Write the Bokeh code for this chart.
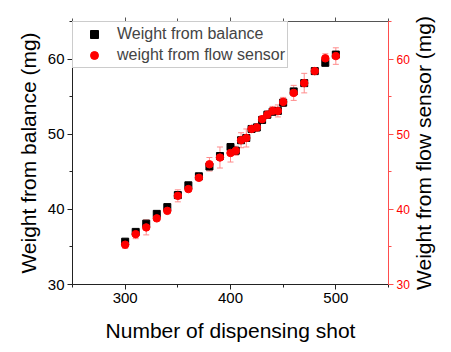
import math
from bokeh.plotting import figure
from bokeh.models import (LinearAxis, Range1d, Whisker, ColumnDataSource, TeeHead, Label,
                          SingleIntervalTicker, Legend, LegendItem, CustomJSTickFormatter)
from bokeh.embed import file_html
from bokeh.resources import INLINE

shots = [300, 310, 320, 330, 340, 350, 360, 370, 380, 390, 400, 405, 410, 415, 420,
         425, 430, 435, 440, 445, 450, 460, 470, 480, 490, 500]
balance = [35.7, 37.0, 38.1, 39.4, 40.3, 41.9, 43.2, 44.4, 45.7, 47.1, 48.3, 47.8, 49.2,
           49.5, 50.7, 50.9, 51.9, 52.6, 53.0, 53.1, 54.2, 55.7, 56.8, 58.4, 59.5, 60.6]
balance_err = [0.4, 0.3, 0.4, 0.3, 0.3, 0.3, 0.3, 0.3, 0.3, 0.3, 0.3, 0.3, 0.3,
               0.3, 0.3, 0.3, 0.3, 0.3, 0.3, 0.3, 0.3, 0.3, 0.3, 0.3, 0.3, 0.3]
flow = [35.3, 36.7, 37.6, 38.8, 39.8, 41.8, 42.7, 44.2, 46.0, 46.9, 47.5, 47.8, 49.2,
        49.5, 50.7, 50.9, 52.0, 52.6, 53.1, 53.1, 54.3, 55.5, 56.8, 58.4, 60.1, 60.4]
flow_err = [0.5, 0.6, 1.0, 0.3, 0.3, 0.8, 0.3, 0.3, 0.9, 1.4, 1.2, 0.6, 1.0,
            1.2, 0.4, 0.5, 0.4, 0.5, 0.6, 0.8, 0.6, 1.0, 1.3, 0.3, 0.6, 1.1]

FONT = "Liberation Sans"
RED = "#ff0000"
RED_LINE = "#ff4d4d"
ERR_RED = "#ff8c8c"

src = ColumnDataSource(dict(
    x=shots, b=balance, f=flow,
    bu=[v + e for v, e in zip(balance, balance_err)],
    bl=[v - e for v, e in zip(balance, balance_err)],
    fu=[v + e for v, e in zip(flow, flow_err)],
    fl=[v - e for v, e in zip(flow, flow_err)],
))

p = figure(width=451, height=352, x_range=Range1d(250, 550), y_range=Range1d(30, 65),
           output_backend="svg", toolbar_location=None,
           min_border_left=72, min_border_right=63, min_border_top=21, min_border_bottom=68,
           x_axis_label="Number of dispensing shot", y_axis_label="Weight from balance (mg)")
p.extra_y_ranges = {"flow": Range1d(30, 65)}
p.grid.visible = False
p.outline_line_color = None
p.background_fill_color = "white"
p.border_fill_color = "white"


def style_axis(ax, color="#222222", label_color="black", font_size="15px"):
    ax.axis_line_color = color
    ax.major_tick_line_color = color
    ax.minor_tick_line_color = color
    ax.major_tick_out = 5
    ax.major_tick_in = 0
    ax.minor_tick_out = 3
    ax.minor_tick_in = 0
    ax.major_label_text_font = FONT
    ax.major_label_text_font_size = font_size
    ax.major_label_text_color = label_color
    ax.major_label_standoff = 3
    ax.axis_label_text_font = FONT
    ax.axis_label_text_font_size = "21px"
    ax.axis_label_text_font_style = "normal"
    ax.axis_label_text_color = "black"


xa = p.xaxis[0]
xa.ticker = SingleIntervalTicker(interval=100, num_minor_ticks=2)
style_axis(xa)
xa.axis_label_standoff = 13

ya = p.yaxis[0]
ya.ticker = SingleIntervalTicker(interval=10, num_minor_ticks=2)
style_axis(ya)
ya.axis_label_standoff = 5

ra = LinearAxis(y_range_name="flow",
                ticker=SingleIntervalTicker(interval=10, num_minor_ticks=2))
style_axis(ra, color=RED_LINE, label_color=RED, font_size="12px")
p.add_layout(ra, "right")

# right-hand axis title, reading bottom-to-top like the left one (in the right panel)
right_title = Label(x=583, y=47.5, text="Weight from flow sensor (mg)", angle=math.pi / 2,
                    angle_units="rad", text_align="center", text_baseline="middle",
                    text_font=FONT, text_font_size="21px", text_color="black")
p.add_layout(right_title, "right")

ta = LinearAxis(ticker=SingleIntervalTicker(interval=100, num_minor_ticks=2),
                formatter=CustomJSTickFormatter(code="return ''"))
style_axis(ta, color="#555555")
ta.major_tick_out = 4
ta.minor_tick_out = 3
p.add_layout(ta, "above")

# error bars for balance (light gray)
wb = Whisker(source=src, base="x", upper="bu", lower="bl", line_color="#bbbbbb",
             line_width=1,
             upper_head=TeeHead(size=6, line_color="#bbbbbb"),
             lower_head=TeeHead(size=6, line_color="#bbbbbb"))
p.add_layout(wb)

sq = p.scatter("x", "b", source=src, marker="square", size=7, color="black")

wf = Whisker(source=src, base="x", upper="fu", lower="fl", line_color=ERR_RED,
             line_width=1, y_range_name="flow",
             upper_head=TeeHead(size=6, line_color=ERR_RED),
             lower_head=TeeHead(size=6, line_color=ERR_RED))
p.add_layout(wf)

ci = p.scatter("x", "f", source=src, marker="circle", size=7.5, color=RED,
               y_range_name="flow")

legend = Legend(items=[LegendItem(label="Weight from balance", renderers=[sq]),
                       LegendItem(label="weight from flow sensor", renderers=[ci])],
                location="top_left", margin=0, padding=2, glyph_width=38, glyph_height=20,
                label_standoff=4, spacing=1, label_text_font=FONT,
                label_text_font_size="16px", border_line_color="#999999",
                background_fill_alpha=1.0)
p.add_layout(legend)

open("out.html", "w").write(file_html(p, INLINE))
